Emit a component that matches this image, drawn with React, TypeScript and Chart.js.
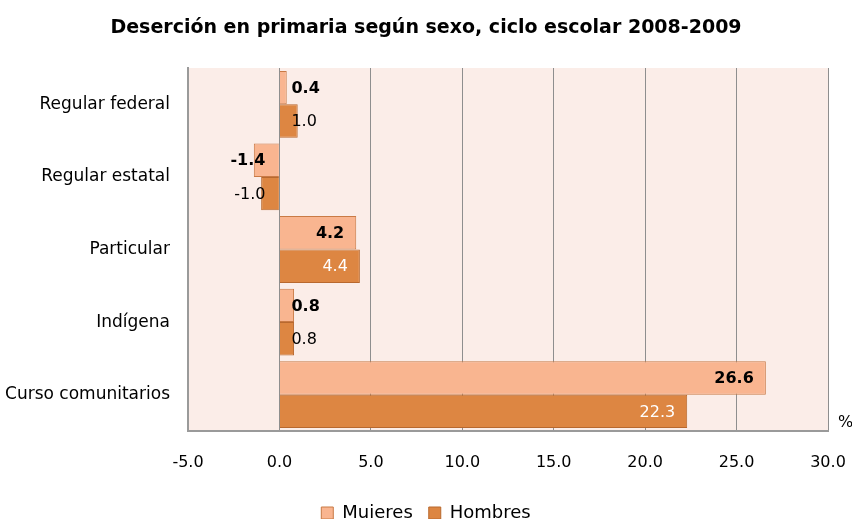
import React, { useEffect, useRef } from 'react';
import { Chart, registerables } from 'chart.js';

Chart.register(...registerables);

const categories = ['Regular federal', 'Regular estatal', 'Particular', 'Indígena', 'Curso comunitarios'];
const mujeres = [0.4, -1.4, 4.2, 0.8, 26.6];
const hombres = [1.0, -1.0, 4.4, 0.8, 22.3];
const seriesNames = ['Muieres', 'Hombres'];
const titleText = 'Deserción en primaria según sexo, ciclo escolar 2008-2009';
const xMin = -5;
const xMax = 30;
const xStep = 5;
const unitLabel = '%';

const FONT = '"DejaVu Sans", sans-serif';

const bgPlugin = {
  id: 'plotBg',
  beforeDraw(chart: any) {
    const { ctx, chartArea } = chart;
    ctx.save();
    ctx.fillStyle = '#fbede8';
    ctx.fillRect(chartArea.left, chartArea.top, chartArea.right - chartArea.left, chartArea.bottom - chartArea.top);
    ctx.restore();
  },
};

const labelPlugin = {
  id: 'barLabels',
  afterDatasetsDraw(chart: any) {
    const ctx = chart.ctx;
    const x0 = chart.scales.x.getPixelForValue(0);
    chart.data.datasets.forEach((ds: any, di: number) => {
      const meta = chart.getDatasetMeta(di);
      meta.data.forEach((bar: any, i: number) => {
        const v = ds.data[i] as number;
        const text = v.toFixed(1);
        ctx.save();
        ctx.font = (di === 0 ? 'bold ' : '') + '16px ' + FONT;
        const w = ctx.measureText(text).width;
        const barW = Math.abs(bar.x - x0);
        let x: number;
        let align: CanvasTextAlign;
        let color = '#000';
        if (v > 0 && barW > w + 24) {
          x = bar.x - 12;
          align = 'right';
          color = di === 1 ? '#ffffff' : '#000000';
        } else if (v >= 0) {
          x = x0 + 12;
          align = 'left';
        } else {
          x = x0 - 14;
          align = 'right';
        }
        ctx.fillStyle = color;
        ctx.textAlign = align;
        ctx.textBaseline = 'middle';
        ctx.fillText(text, x, bar.y + 1);
        ctx.restore();
      });
    });
    const ca = chart.chartArea;
    ctx.save();
    ctx.font = '16px ' + FONT;
    ctx.fillStyle = '#000';
    ctx.textAlign = 'left';
    ctx.textBaseline = 'middle';
    ctx.fillText(unitLabel, ca.right + 10, ca.bottom - 8);
    ctx.restore();
  },
};

export default function App() {
  const ref = useRef<HTMLCanvasElement | null>(null);
  useEffect(() => {
    if (!ref.current) return;
    const chart = new Chart(ref.current, {
      type: 'bar',
      data: {
        labels: categories,
        datasets: [
          {
            label: seriesNames[0],
            data: mujeres,
            backgroundColor: '#f9b590',
            borderColor: '#c97a45',
            borderWidth: 1,
            barPercentage: 1,
            categoryPercentage: 0.92,
          },
          {
            label: seriesNames[1],
            data: hombres,
            backgroundColor: '#dd8642',
            borderColor: '#b8682e',
            borderWidth: 1,
            barPercentage: 1,
            categoryPercentage: 0.92,
          },
        ],
      },
      options: {
        indexAxis: 'y',
        responsive: false,
        animation: false,
        devicePixelRatio: 1,
        layout: { padding: { left: 0, right: 0, top: 0, bottom: -13 } },
        scales: {
          x: {
            min: xMin,
            max: xMax,
            ticks: {
              stepSize: xStep,
              padding: 22,
              color: '#000',
              font: { family: FONT, size: 16 },
              callback: (v: any) => Number(v).toFixed(1),
            },
            grid: { color: '#8e8e8e', drawTicks: false, lineWidth: 1 },
            border: { color: '#9a9a9a', display: true, width: 2 },
            afterFit: (scale: any) => {
              scale.height = 57;
              scale.paddingLeft = 0;
              scale.paddingRight = 24;
            },
          },
          y: {
            ticks: {
              padding: 18,
              color: '#000',
              font: { family: FONT, size: 17 },
            },
            grid: { display: false, drawTicks: false },
            border: { color: '#9a9a9a', display: true, width: 2 },
            afterFit: (scale: any) => {
              scale.width = 188;
            },
          },
        },
        plugins: {
          title: {
            display: true,
            text: titleText,
            color: '#000',
            font: { family: FONT, size: 19, weight: 'bold' },
            padding: { top: 17, bottom: 28.2 },
          },
          legend: {
            position: 'bottom',
            labels: {
              boxWidth: 12,
              boxHeight: 12,
              color: '#000',
              font: { family: FONT, size: 18 },
              padding: 16,
            },
          },
          tooltip: { enabled: false },
        },
      },
      plugins: [bgPlugin, labelPlugin],
    });
    return () => chart.destroy();
  }, []);
  return (
    <div style={{ position: 'absolute', left: 0, top: 0, width: 852, height: 519, background: '#fff' }}>
      <canvas ref={ref} width={852} height={519} style={{ width: 852, height: 519, display: 'block' }} />
    </div>
  );
}
